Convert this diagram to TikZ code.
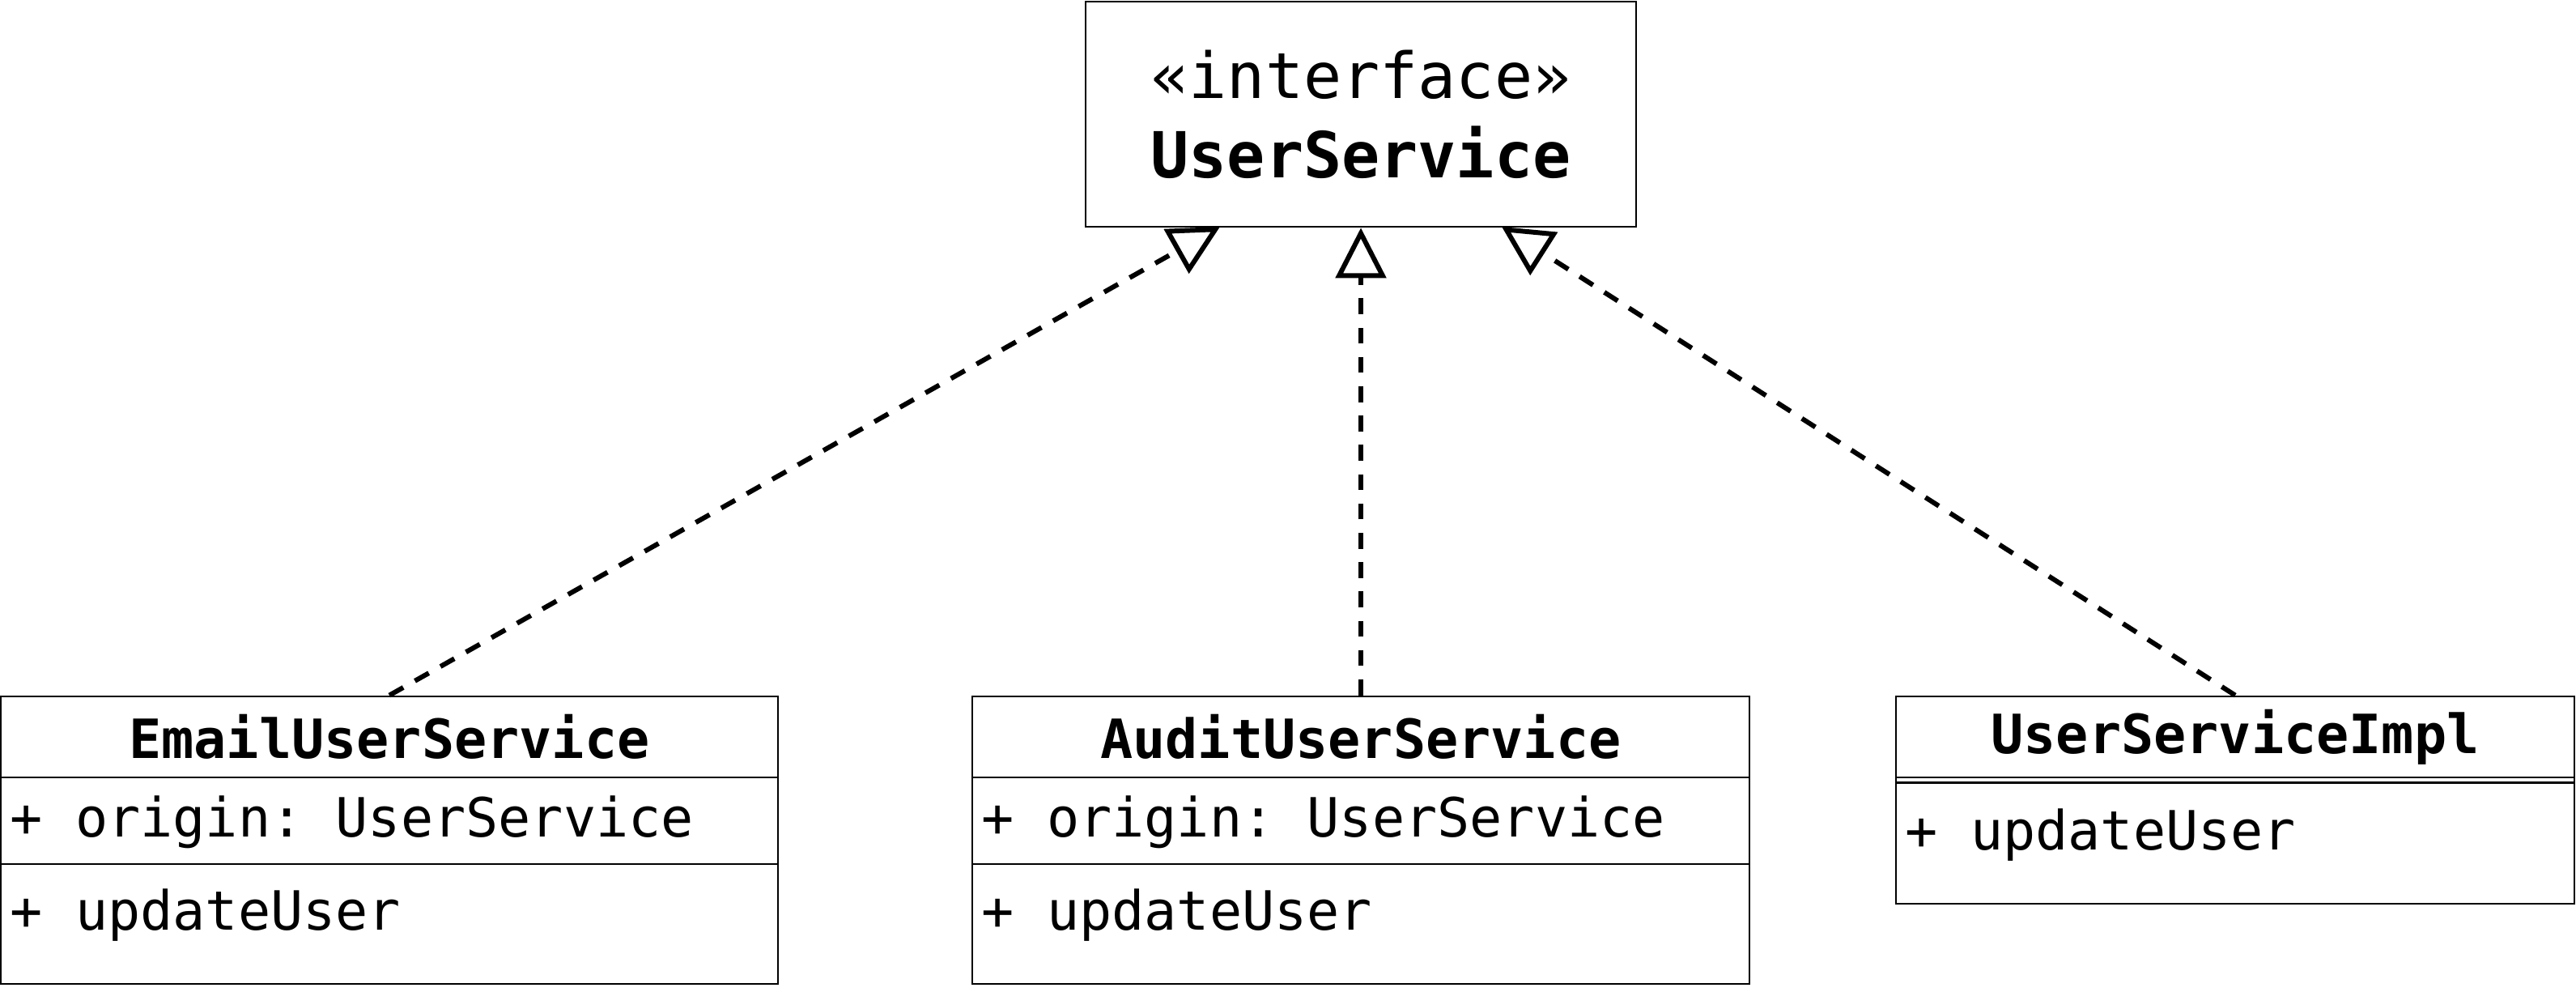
\documentclass[tikz,border=0pt]{standalone}
\usepackage{fontspec}
\setmonofont{DejaVu Sans Mono}
\usepackage{tikz}
\usetikzlibrary{shapes, arrows.meta}

\tikzset{
	box/.style={draw, line width=0.8pt, rectangle, inner sep=0pt, font=\ttfamily\fontsize{19}{23}\selectfont},
	classname/.style={box, font=\ttfamily\bfseries\fontsize{19}{23}\selectfont},
	member/.style={anchor=west, inner sep=0pt, font=\ttfamily\fontsize{19}{23}\selectfont},
	realize/.style={line width=1.7pt, dash pattern=on 5.6pt off 4.7pt,
		-{Triangle[open, length=0.62cm, width=0.62cm, fill=white]}}
}

\begin{document}
\begin{tikzpicture}

\useasboundingbox (0,0) rectangle (31.82,-12.24);

%Interface
\node [box, minimum width=6.80cm, minimum height=2.78cm, align=center,
	font=\ttfamily\fontsize{22.3}{27.8}\selectfont] (iface) at (16.81,-1.41)
	{«interface»\\\textbf{UserService}};
\coordinate (ifL) at (15.07,-2.80);
\coordinate (ifR) at (18.55,-2.80);

%Email Class
\node [classname, minimum width=9.60cm, minimum height=1.00cm] (email) at (4.81,-9.10) {EmailUserService};
\node [box, minimum width=9.60cm, minimum height=1.07cm] (emailAttr) at (4.81,-10.135) {};
\node [box, minimum width=9.60cm, minimum height=1.48cm] (emailOps) at (4.81,-11.41) {};
\node [member] (emailOrigin) at (0.12,-10.15) {+ origin: UserService};
\node [member] (emailUpdate) at (0.12,-11.30) {+ updateUser};

%Audit Class
\node [classname, minimum width=9.60cm, minimum height=1.00cm] (audit) at (16.81,-9.10) {AuditUserService};
\node [box, minimum width=9.60cm, minimum height=1.07cm] (auditAttr) at (16.81,-10.135) {};
\node [box, minimum width=9.60cm, minimum height=1.48cm] (auditOps) at (16.81,-11.41) {};
\node [member] (auditOrigin) at (12.12,-10.15) {+ origin: UserService};
\node [member] (auditUpdate) at (12.12,-11.30) {+ updateUser};

%Impl Class
\node [classname, minimum width=8.38cm, minimum height=1.00cm] (impl) at (27.61,-9.10) {UserServiceImpl};
\node [box, minimum width=8.38cm, minimum height=1.56cm] (implOps) at (27.61,-10.38) {};
\draw [line width=0.8pt] ([yshift=-0.08cm]implOps.north west) -- ([yshift=-0.08cm]implOps.north east);
\node [member] (implUpdate) at (23.53,-10.31) {+ updateUser};

%Arrows
\draw [realize] (email.north) -- (ifL);
\draw [realize] (audit.north) -- (iface.south);
\draw [realize] (impl.north) -- (ifR);

\end{tikzpicture}
\end{document}
